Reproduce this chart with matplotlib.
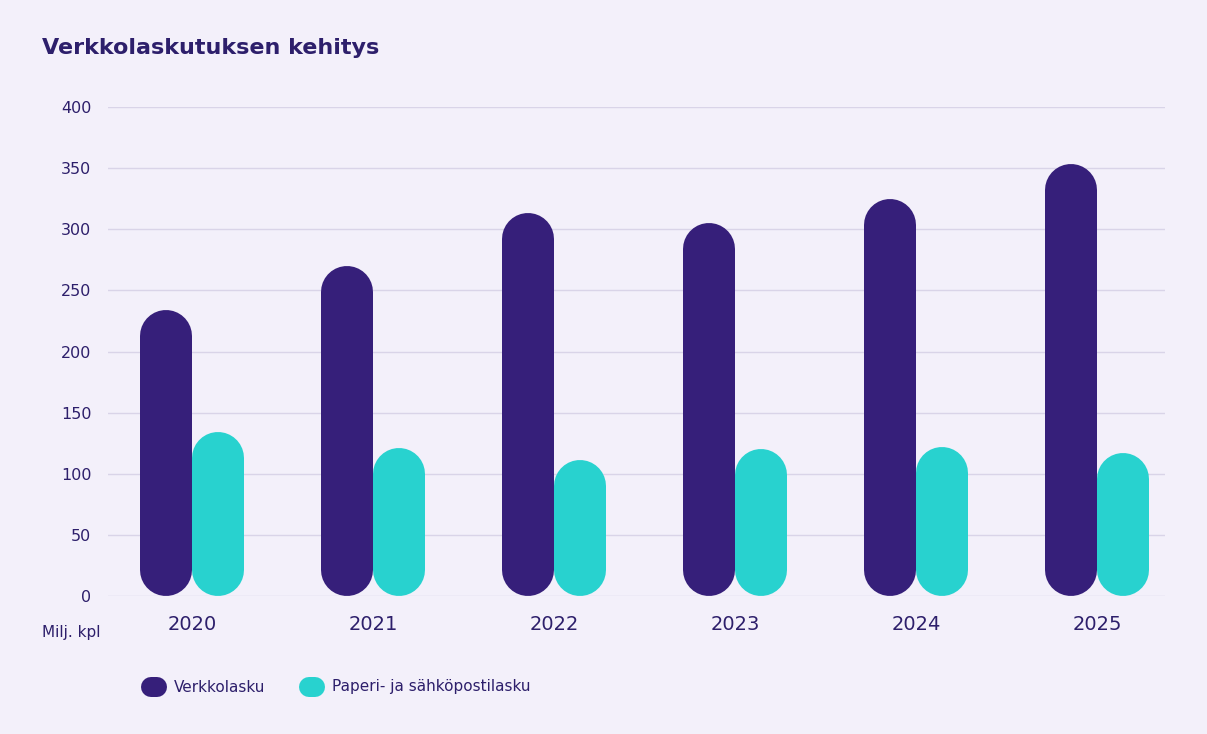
import numpy as np
import matplotlib.pyplot as plt
from matplotlib.lines import Line2D

years = ["2020", "2021", "2022", "2023", "2024", "2025"]
verkko = [234, 270, 313, 305, 325, 353]
paperi = [134, 121, 111, 120, 122, 117]
yticks = [0, 50, 100, 150, 200, 250, 300, 350, 400]

bg = "#f3f0fa"
dark = "#361f7a"
teal = "#28d2cf"
txt = "#2d1f6b"

W, H = 1207, 734
fig = plt.figure(figsize=(W / 100, H / 100), dpi=100, facecolor=bg)
ax = fig.add_axes([108 / W, 1 - 596 / H, (1165 - 108) / W, (596 - 107) / H])
ax.set_facecolor(bg)
ax.set_xlim(-0.464, 5.376)
ax.set_ylim(0, 400)

ppu = 489 / 400  # pixels per data unit
r = 26 / ppu
lw = 52 * 72 / 100
off = 26 / 181
x = np.arange(len(years))
for xi, v, p in zip(x, verkko, paperi):
    ax.plot([xi - off, xi - off], [r, v - r], color=dark, lw=lw,
            solid_capstyle="round", zorder=3, clip_on=False)
    ax.plot([xi + off, xi + off], [r, p - r], color=teal, lw=lw,
            solid_capstyle="round", zorder=3, clip_on=False)

for t in yticks:
    ax.axhline(t, color="#d9d4e8", lw=1, zorder=1)
ax.set_yticks(yticks)
ax.set_yticklabels([str(t) for t in yticks], fontsize=11.5, color=txt)
ax.set_xticks(x)
ax.set_xticklabels(years, fontsize=14, color=txt)
ax.tick_params(length=0, axis="y", pad=12)
ax.tick_params(length=0, axis="x", pad=14)
for s in ax.spines.values():
    s.set_visible(False)

fig.text(42 / W, 1 - 48 / H, "Verkkolaskutuksen kehitys", fontsize=16,
         fontweight="bold", color=txt, va="center")
fig.text(42 / W, 1 - 633 / H, "Milj. kpl", fontsize=11, color=txt, va="center")

for x0, col, label in [(141, dark, "Verkkolasku"), (299, teal, "Paperi- ja sähköpostilasku")]:
    fig.add_artist(Line2D([(x0 + 10) / W, (x0 + 16) / W], [1 - 687 / H] * 2,
                          color=col, lw=20 * 0.72, solid_capstyle="round"))
    fig.text((x0 + 33) / W, 1 - 687 / H, label, fontsize=11, color=txt, va="center")

fig.savefig("out.png", dpi=100, facecolor=bg)
